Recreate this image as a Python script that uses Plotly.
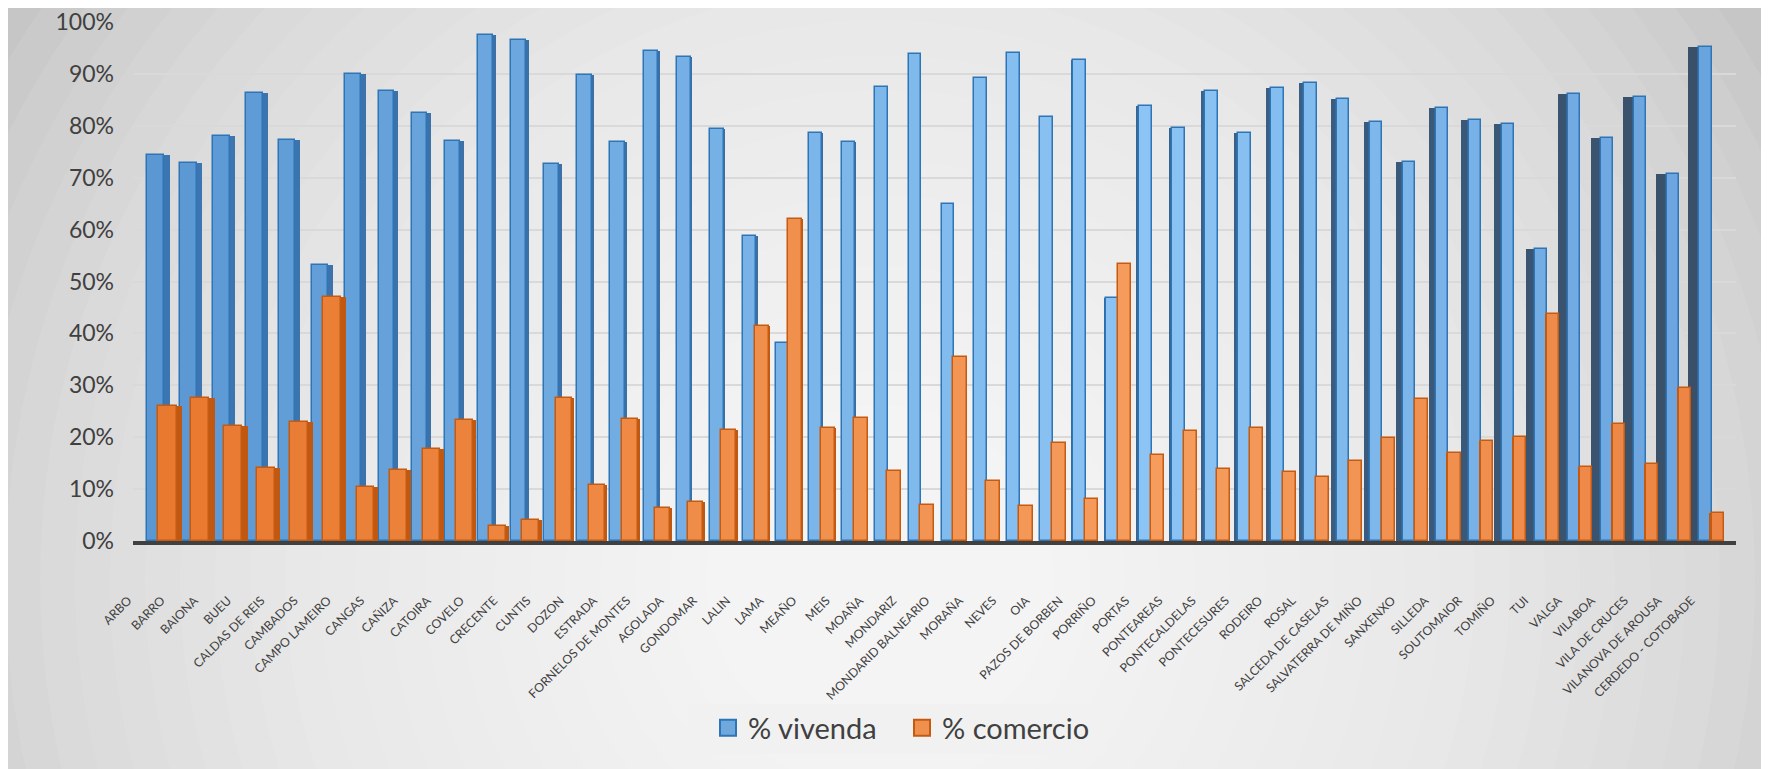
import numpy as np
import plotly.graph_objects as go

categories = ["ARBO", "BARRO", "BAIONA", "BUEU", "CALDAS DE REIS", "CAMBADOS", "CAMPO LAMEIRO",
              "CANGAS", "CAÑIZA", "CATOIRA", "COVELO", "CRECENTE", "CUNTIS", "DOZON", "ESTRADA",
              "FORNELOS DE MONTES", "AGOLADA", "GONDOMAR", "LALIN", "LAMA", "MEAÑO", "MEIS", "MOAÑA",
              "MONDARIZ", "MONDARID BALNEARIO", "MORAÑA", "NEVES", "OIA", "PAZOS DE BORBEN", "PORRIÑO",
              "PORTAS", "PONTEAREAS", "PONTECALDELAS", "PONTECESURES", "RODEIRO", "ROSAL",
              "SALCEDA DE CASELAS", "SALVATERRA DE MIÑO", "SANXENXO", "SILLEDA", "SOUTOMAIOR", "TOMIÑO",
              "TUI", "VALGA", "VILABOA", "VILA DE CRUCES", "VILANOVA DE AROUSA", "CERDEDO - COTOBADE"]

vivenda = [74.3, 72.8, 78.1, 86.3, 77.3, 53.1, 90.0, 86.8, 82.5, 77.1, 97.5, 96.5, 72.7, 89.8, 76.9,
           94.4, 93.2, 79.3, 58.8, 38.2, 78.7, 76.8, 87.4, 93.9, 64.9, 89.2, 94.1, 81.7, 92.7, 46.8,
           83.9, 79.5, 86.8, 78.7, 87.3, 88.3, 85.1, 80.7, 73.0, 83.5, 81.1, 80.4, 56.3, 86.1, 77.7,
           85.5, 70.7, 95.2]

comercio = [26.0, 27.5, 22.2, 14.1, 23.0, 47.0, 10.5, 13.6, 17.8, 23.3, 2.9, 4.1, 27.5, 10.7, 23.6,
            6.4, 7.6, 21.3, 41.5, 62.1, 21.7, 23.7, 13.4, 6.9, 35.4, 11.6, 6.7, 18.8, 8.0, 53.4,
            16.6, 21.1, 13.8, 21.7, 13.2, 12.3, 15.5, 19.8, 27.4, 16.9, 19.3, 20.0, 43.7, 14.3, 22.6,
            14.8, 29.5, 5.3]

y_ticks = [0, 10, 20, 30, 40, 50, 60, 70, 80, 90, 100]
y_ticktext = [f"{v}%" for v in y_ticks]

# ---------------- styling helpers (pseudo-3D look) ----------------
n = len(categories)
idx = np.arange(n)
CAT_PX = 32.8          # pixel width of one category slot
knots = [0, 23, n - 1]


def u(v):
    return (np.asarray(v) / CAT_PX).tolist()


def hex2rgb(h):
    h = h.lstrip('#')
    return [int(h[i:i + 2], 16) for i in (0, 2, 4)]


def grad(stops_pos, stops_col):
    cols = np.array([hex2rgb(c) for c in stops_col], dtype=float)
    out = []
    for i in idx:
        r, g, b = (np.interp(i, stops_pos, cols[:, k]) for k in range(3))
        out.append(f"rgb({int(r)},{int(g)},{int(b)})")
    return out


# front face / side face extents (pixels relative to the category centre)
bL = np.interp(idx, knots, [-18.3, -10.8, -7.0])
bR = np.interp(idx, knots, [-1.3, 1.8, 5.4])
bwR = np.interp(idx, knots, [5.8, 0.0, 0.0])
bwL = np.interp(idx, knots, [0.0, 0.0, 11.0])
oL = np.interp(idx, knots, [-7.4, 1.0, 6.0])
oR = np.interp(idx, knots, [11.5, 14.5, 17.4])
owR = np.interp(idx, knots, [5.7, 0.0, 0.0])
owL = np.interp(idx, knots, [0.0, 0.0, 3.0])

blue_front = grad([0, 30, n - 1], ["#5b97d3", "#8cc5f5", "#6aa4de"])
blue_side = grad([0, 23, n - 1], ["#3c76b2", "#3c6c9c", "#3a5068"])
orange_front = grad([0, 30, n - 1], ["#e9792f", "#f69d5e", "#ed8443"])
orange_side = "#c05812"

fig = go.Figure()

fig.add_trace(go.Bar(x=categories, y=vivenda, offset=u(bL - bwL), width=u(bR + bwR - bL + bwL),
                     marker=dict(color=blue_side, line=dict(width=0)),
                     showlegend=False, hoverinfo="skip"))
fig.add_trace(go.Bar(x=categories, y=vivenda, name="% vivenda", offset=u(bL), width=u(bR - bL),
                     marker=dict(color=blue_front, line=dict(color="#2e75b6", width=1.5)),
                     showlegend=False))
fig.add_trace(go.Bar(x=categories, y=comercio, offset=u(oL - owL), width=u(oR + owR - oL + owL),
                     marker=dict(color=orange_side, line=dict(width=0)),
                     showlegend=False, hoverinfo="skip"))
fig.add_trace(go.Bar(x=categories, y=comercio, name="% comercio", offset=u(oL), width=u(oR - oL),
                     marker=dict(color=orange_front, line=dict(color="#c55a11", width=1.5)),
                     showlegend=False))

# invisible carrier so the label axis is drawn
fig.add_trace(go.Scatter(x=idx.tolist(), y=vivenda, xaxis="x2", yaxis="y", mode="markers",
                         marker=dict(opacity=0, size=1), hoverinfo="skip", showlegend=False))

# legend entries (square swatches like the original)
fig.add_trace(go.Scatter(x=[None], y=[None], mode="markers", name="% vivenda",
                         marker=dict(symbol="square", size=17, color="#6fa8dc",
                                     line=dict(color="#2e75b6", width=2))))
fig.add_trace(go.Scatter(x=[None], y=[None], mode="markers", name="% comercio",
                         marker=dict(symbol="square", size=17, color="#f0904f",
                                     line=dict(color="#c55a11", width=2))))

# ---------------- layout ----------------
W, H = 1761, 761            # page adds an 8px body margin
ML, MR = 125, 33
MT, MB = 14.0, 227.5
plot_w = W - ML - MR
plot_h = H - MT - MB
X0, Y0 = ML, MT + plot_h     # figure-pixel origin of the plot area (bottom-left)


def px_to_paper_x(p):
    return (p - X0) / plot_w


def px_to_paper_y(p):
    return (Y0 - p) / plot_h


# label axis (front edge of the 3D floor is slightly wider than the bar wall)
LBL_START, LBL_STEP, LBL_SHIFT = 140.0, 33.26, -20
lbl_range = [(ML - LBL_START) / LBL_STEP, (W - MR - LBL_START) / LBL_STEP]

# radial grey background
shapes = []
cx, cy = px_to_paper_x(872), px_to_paper_y(572)
rx = 1050 / plot_w
ry = 1050 / plot_h
N = 30
for k in range(N, 0, -1):
    s = k / N
    shapes.append(dict(type="circle", xref="paper", yref="paper",
                       x0=cx - rx * s, x1=cx + rx * s, y0=cy - ry * s, y1=cy + ry * s,
                       fillcolor="white", opacity=0.08, line=dict(width=0), layer="below"))
# legend panel
shapes.append(dict(type="rect", xref="paper", yref="paper",
                   x0=px_to_paper_x(680), x1=px_to_paper_x(1098),
                   y0=px_to_paper_y(747), y1=px_to_paper_y(697),
                   fillcolor="#f1f1f1", line=dict(width=0), layer="below"))

fig.update_layout(
    width=W, height=H,
    margin=dict(l=ML, r=MR, t=MT, b=MB, autoexpand=False),
    paper_bgcolor="#c2c2c2",
    plot_bgcolor="rgba(0,0,0,0)",
    barmode="overlay",
    bargap=0,
    shapes=shapes,
    font=dict(family="Lato, 'Open Sans', sans-serif", color="#404040"),
    xaxis=dict(type="category", range=[-0.976, 47.9], showticklabels=False, showgrid=False,
               showline=True, linecolor="#404040", linewidth=4, zeroline=False, ticks="",
               automargin=False),
    xaxis2=dict(overlaying="x", anchor="y", side="bottom", range=lbl_range,
                tickmode="array", tickvals=idx.tolist(), ticktext=categories,
                tickangle=-45, showgrid=False, showline=False, zeroline=False, ticks="",
                ticklabelshift=LBL_SHIFT, ticklabelstandoff=49, automargin=False,
                ticklabeloverflow="allow",
                tickfont=dict(size=12.3, color="#404040", family="Lato, sans-serif")),
    yaxis=dict(range=[0, 100], tickmode="array", tickvals=y_ticks, ticktext=y_ticktext,
               showgrid=True, gridcolor="#d9d9d9", gridwidth=2, zeroline=False,
               showline=False, ticks="", ticklabelstandoff=18, automargin=False,
               ticklabeloverflow="allow",
               tickfont=dict(size=23, color="#404040", family="Lato, sans-serif")),
    legend=dict(orientation="h", x=px_to_paper_x(700), xanchor="left",
                y=px_to_paper_y(695), yanchor="top",
                bgcolor="rgba(0,0,0,0)", borderwidth=0,
                font=dict(size=29, color="#404040", family="Lato, sans-serif"),
                entrywidth=149, entrywidthmode="pixels", traceorder="normal"),
    showlegend=True,
)

fig.write_html("out.html")
